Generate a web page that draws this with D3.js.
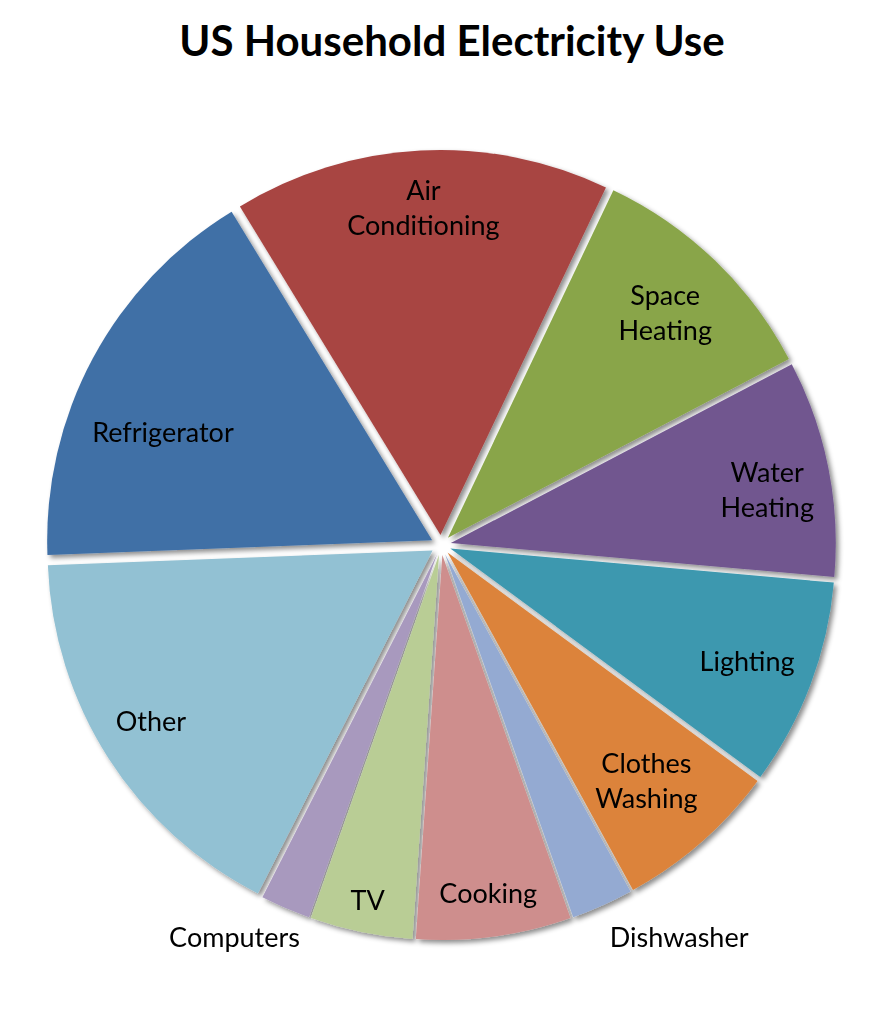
<!DOCTYPE html>
<html>
<head>
<meta charset="utf-8">
<script src="https://cdn.jsdelivr.net/npm/d3@7"></script>
<style>
  html, body { margin: 0; padding: 0; background: #fff; }
  svg { display: block; }
</style>
</head>
<body>
<script>
// ---- data ----
const categories = ["Air Conditioning", "Space Heating", "Water Heating", "Lighting", "Clothes Washing",
                    "Dishwasher", "Cooking", "TV", "Computers", "Other", "Refrigerator"];
const values = [15.8, 10.25, 9.1, 8.7, 6.9, 2.6, 6.5, 4.3, 2.1, 16.9, 16.9];
const labelLines = [["Air", "Conditioning"], ["Space", "Heating"], ["Water", "Heating"], ["Lighting"],
                    ["Clothes", "Washing"], ["Dishwasher"], ["Cooking"], ["TV"], ["Computers"], ["Other"], ["Refrigerator"]];
const colors = ["#A84442", "#89A54A", "#71578F", "#3D98AF", "#DC833A", "#94AAD2", "#CE8E8D",
                "#B9CD95", "#A899BE", "#92C1D3", "#3F6FA6"];
// label placement (fraction of radius, angular shift in degrees from slice middle)
const labelRadius = [0.88, 0.84, 0.86, 0.85, 0.81, 1.19, 0.91, 0.94, 1.15, 0.88, 0.78];
const labelShift  = [0, 0, 1.5, 0, 0, -7.2, 0, 0, 4.6, 1.5, -6];

const W = 875, H = 1019;
const cx = 441, cy = 545, R = 385, explode = 10;
const startDeg = 328.6;

const svg = d3.select("body").append("svg").attr("width", W).attr("height", H);

const defs = svg.append("defs");
const f = defs.append("filter").attr("id", "shadow")
  .attr("x", "-10%").attr("y", "-10%").attr("width", "120%").attr("height", "120%");
f.append("feDropShadow").attr("dx", 3).attr("dy", 3).attr("stdDeviation", 2.5)
  .attr("flood-color", "#000").attr("flood-opacity", 0.45);

svg.append("text")
  .attr("x", 452).attr("y", 40)
  .attr("text-anchor", "middle").attr("dominant-baseline", "central")
  .style("font-family", "Lato, 'Open Sans', sans-serif")
  .style("font-weight", "bold").style("font-size", "42px").attr("fill", "#000")
  .text("US Household Electricity Use");

const start = startDeg * Math.PI / 180;
const pie = d3.pie().sort(null).value(d => d).startAngle(start).endAngle(start + 2 * Math.PI);
const arcs = pie(values);
const arc = d3.arc().innerRadius(0).outerRadius(R);

const g = svg.append("g").attr("transform", `translate(${cx},${cy})`);
const slices = g.append("g").attr("filter", "url(#shadow)");
slices.selectAll("path").data(arcs).enter().append("path")
  .attr("d", arc)
  .attr("fill", (d, i) => colors[i])
  .attr("transform", d => {
    const a = (d.startAngle + d.endAngle) / 2;
    return `translate(${explode * Math.sin(a)},${-explode * Math.cos(a)})`;
  });

const labels = g.append("g");
arcs.forEach((d, i) => {
  const a = (d.startAngle + d.endAngle) / 2 + labelShift[i] * Math.PI / 180;
  const r = labelRadius[i] * R;
  const x = r * Math.sin(a), y = -r * Math.cos(a);
  const lines = labelLines[i];
  const lh = 35;
  const t = labels.append("text")
    .attr("text-anchor", "middle")
    .style("font-family", "Lato, 'Open Sans', sans-serif")
    .style("font-size", "27px").attr("fill", "#000");
  lines.forEach((ln, j) => {
    t.append("tspan").attr("x", x)
      .attr("y", y + (j - (lines.length - 1) / 2) * lh)
      .attr("dominant-baseline", "central")
      .text(ln);
  });
});
</script>
</body>
</html>
